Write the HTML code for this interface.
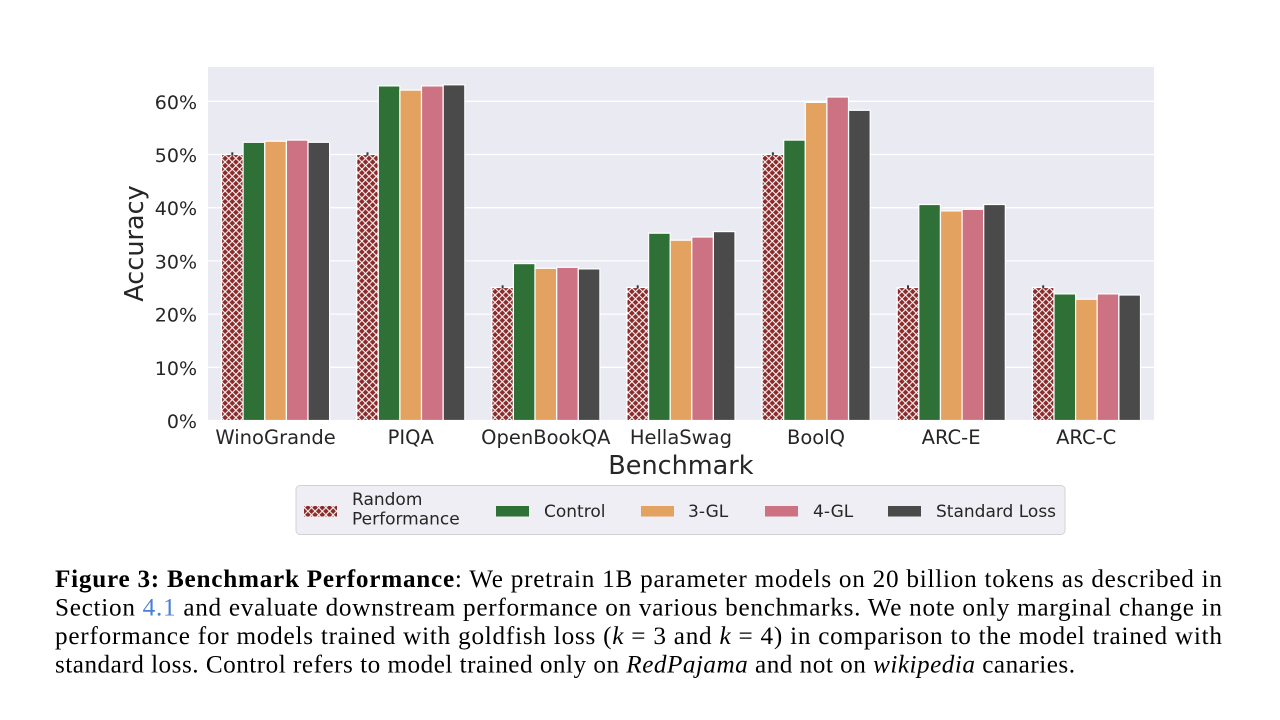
<!DOCTYPE html>
<html><head><meta charset="utf-8"><style>
html,body{margin:0;padding:0;background:#fff;}
svg{display:block;}
</style></head><body>
<svg width="1280" height="720" viewBox="0 0 1280 720" xmlns="http://www.w3.org/2000/svg">
<defs>
<pattern id="hx" patternUnits="userSpaceOnUse" width="7.2" height="7.2" x="221.5" y="0">
<rect width="7.2" height="7.2" fill="#8b2a2a"/>
<path d="M0,0 L7.2,7.2 M7.2,0 L0,7.2 M-1,6.2 L1,8.2 M6.2,-1 L8.2,1 M-1,1 L1,-1 M6.2,8.2 L8.2,6.2" stroke="#fff" stroke-width="1.05"/>
</pattern>
</defs>
<rect x="0" y="0" width="1280" height="720" fill="#fff"/>
<!-- plot bg -->
<rect x="208" y="67" width="946" height="353.5" fill="#eaeaf2"/>
<g stroke="#fff" stroke-width="1.3">
<line x1="208" x2="1154" y1="420.5" y2="420.5"/>
<line x1="208" x2="1154" y1="367.3" y2="367.3"/>
<line x1="208" x2="1154" y1="314.1" y2="314.1"/>
<line x1="208" x2="1154" y1="260.9" y2="260.9"/>
<line x1="208" x2="1154" y1="207.7" y2="207.7"/>
<line x1="208" x2="1154" y1="154.5" y2="154.5"/>
<line x1="208" x2="1154" y1="101.3" y2="101.3"/>
</g>
<!-- bars -->
<g stroke="#fff" stroke-width="1.2">
<g fill="url(#hx)">
<rect x="221.5" y="154.5" width="21.6" height="266"/>
<rect x="356.7" y="154.5" width="21.6" height="266"/>
<rect x="491.8" y="287.5" width="21.6" height="133"/>
<rect x="626.9" y="287.5" width="21.6" height="133"/>
<rect x="762.1" y="154.5" width="21.6" height="266"/>
<rect x="897.2" y="287.5" width="21.6" height="133"/>
<rect x="1032.4" y="287.5" width="21.6" height="133"/>
</g>
<g fill="#2e7035">
<rect x="243.1" y="142.3" width="21.6" height="278.2"/>
<rect x="378.3" y="85.9" width="21.6" height="334.6"/>
<rect x="513.4" y="263.6" width="21.6" height="156.9"/>
<rect x="648.6" y="233.2" width="21.6" height="187.3"/>
<rect x="783.7" y="140.1" width="21.6" height="280.4"/>
<rect x="918.8" y="204.5" width="21.6" height="216"/>
<rect x="1054.0" y="293.9" width="21.6" height="126.6"/>
</g>
<g fill="#e4a260">
<rect x="264.8" y="141.2" width="21.6" height="279.3"/>
<rect x="399.9" y="90.1" width="21.6" height="330.4"/>
<rect x="535.0" y="268.3" width="21.6" height="152.2"/>
<rect x="670.2" y="240.2" width="21.6" height="180.3"/>
<rect x="805.3" y="102.4" width="21.6" height="318.1"/>
<rect x="940.5" y="210.9" width="21.6" height="209.6"/>
<rect x="1075.6" y="299.2" width="21.6" height="121.3"/>
</g>
<g fill="#cc7283">
<rect x="286.4" y="140.1" width="21.6" height="280.4"/>
<rect x="421.5" y="85.9" width="21.6" height="334.6"/>
<rect x="556.7" y="267.3" width="21.6" height="153.2"/>
<rect x="691.8" y="237.0" width="21.6" height="183.5"/>
<rect x="826.9" y="97.0" width="21.6" height="323.5"/>
<rect x="962.1" y="209.3" width="21.6" height="211.2"/>
<rect x="1097.2" y="293.9" width="21.6" height="126.6"/>
</g>
<g fill="#4a4a4a">
<rect x="308.0" y="142.3" width="21.6" height="278.2"/>
<rect x="443.2" y="84.8" width="21.6" height="335.7"/>
<rect x="578.3" y="268.9" width="21.6" height="151.6"/>
<rect x="713.4" y="231.6" width="21.6" height="188.9"/>
<rect x="848.6" y="110.3" width="21.6" height="310.2"/>
<rect x="983.7" y="204.5" width="21.6" height="216"/>
<rect x="1118.9" y="295.0" width="21.6" height="125.5"/>
</g>
</g>
<g stroke="#3a3a3a" stroke-width="2">
<line x1="232.3" x2="232.3" y1="152.3" y2="155.5"/>
<line x1="367.5" x2="367.5" y1="152.3" y2="155.5"/>
<line x1="502.6" x2="502.6" y1="285.3" y2="288.5"/>
<line x1="637.7" x2="637.7" y1="285.3" y2="288.5"/>
<line x1="772.9" x2="772.9" y1="152.3" y2="155.5"/>
<line x1="908.0" x2="908.0" y1="285.3" y2="288.5"/>
<line x1="1043.2" x2="1043.2" y1="285.3" y2="288.5"/>
</g>
<!-- y tick labels -->
<g font-family="'DejaVu Sans', 'Liberation Sans', sans-serif" font-size="19" fill="#262626" text-anchor="end">
<text x="197" y="428">0%</text>
<text x="197" y="374.8">10%</text>
<text x="197" y="321.6">20%</text>
<text x="197" y="268.4">30%</text>
<text x="197" y="215.2">40%</text>
<text x="197" y="162">50%</text>
<text x="197" y="108.8">60%</text>
</g>
<!-- x tick labels -->
<g font-family="'DejaVu Sans', 'Liberation Sans', sans-serif" font-size="19.5" fill="#262626" text-anchor="middle">
<text x="275.6" y="444">WinoGrande</text>
<text x="410.7" y="444">PIQA</text>
<text x="545.8" y="444">OpenBookQA</text>
<text x="680.9" y="444">HellaSwag</text>
<text x="816" y="444">BoolQ</text>
<text x="951.1" y="444">ARC-E</text>
<text x="1086.2" y="444">ARC-C</text>
</g>
<text x="680.9" y="474" font-family="'DejaVu Sans', 'Liberation Sans', sans-serif" font-size="25.5" fill="#262626" text-anchor="middle">Benchmark</text>
<text transform="translate(143,243.5) rotate(-90)" x="0" y="0" font-family="'DejaVu Sans', 'Liberation Sans', sans-serif" font-size="25.5" fill="#262626" text-anchor="middle">Accuracy</text>
<!-- legend -->
<rect x="296" y="485.5" width="769" height="49" rx="4" fill="#eeeef4" stroke="#d2d2d6" stroke-width="1"/>
<rect x="304" y="506" width="33" height="10.5" fill="url(#hx)"/>
<rect x="496" y="506" width="33" height="10.5" fill="#2e7035"/>
<rect x="641" y="506" width="33" height="10.5" fill="#e4a260"/>
<rect x="765" y="506" width="33" height="10.5" fill="#cc7283"/>
<rect x="888" y="506" width="33" height="10.5" fill="#4a4a4a"/>
<g font-family="'DejaVu Sans', 'Liberation Sans', sans-serif" font-size="17" fill="#262626">
<text x="352" y="505">Random</text>
<text x="352" y="524.5">Performance</text>
<text x="544" y="517">Control</text>
<text x="688" y="517">3-GL</text>
<text x="813" y="517">4-GL</text>
<text x="936" y="517">Standard Loss</text>
</g>
<!-- caption -->
<g font-family="'Liberation Serif', 'Times New Roman', serif" font-size="25.2" fill="#000">
<text x="55" y="587" textLength="1167" lengthAdjust="spacing"><tspan font-weight="bold">Figure 3: Benchmark Performance</tspan>: We pretrain 1B parameter models on 20 billion tokens as described in</text>
<text x="55" y="615.5" textLength="1167" lengthAdjust="spacing">Section <tspan fill="#4a7fd4">4.1</tspan> and evaluate downstream performance on various benchmarks. We note only marginal change in</text>
<text x="55" y="644" textLength="1167" lengthAdjust="spacing">performance for models trained with goldfish loss (<tspan font-style="italic">k</tspan> = 3 and <tspan font-style="italic">k</tspan> = 4) in comparison to the model trained with</text>
<text x="55" y="672.5" textLength="1020" lengthAdjust="spacing">standard loss. Control refers to model trained only on <tspan font-style="italic">RedPajama</tspan> and not on <tspan font-style="italic">wikipedia</tspan> canaries.</text>
</g>
</svg>
</body></html>
